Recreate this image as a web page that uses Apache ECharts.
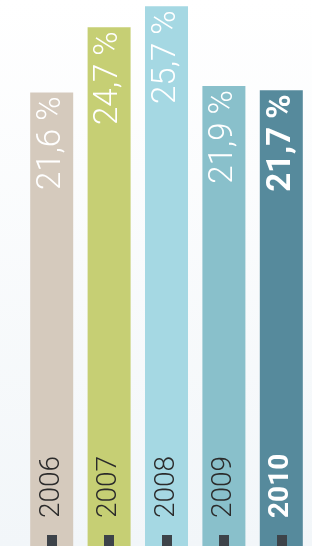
<!DOCTYPE html>
<html>
<head>
<meta charset="utf-8">
<script src="https://cdn.jsdelivr.net/npm/echarts@6/dist/echarts.min.js"></script>
<style>
  html, body { margin: 0; padding: 0; }
  body { background: linear-gradient(#ffffff, #f2f6f9); }
  #chart { width: 312px; height: 546px; }
</style>
</head>
<body>
<div id="chart"></div>
<script>
var years = ['2006', '2007', '2008', '2009', '2010'];
var values = [21.6, 24.7, 25.7, 21.9, 21.7];
var colors = ['#d5cabd', '#c6cf74', '#a5d8e3', '#89c0cb', '#568a9c'];

var chart = echarts.init(document.getElementById('chart'));

var option = {
    animation: false,
    grid: { left: 23, right: 2, top: 0, bottom: 0 },
    xAxis: {
        type: 'category',
        data: years,
        axisLine: { show: false },
        axisTick: {
            show: true,
            inside: true,
            alignWithLabel: true,
            length: 11,
            lineStyle: { color: '#3d4349', width: 10 }
        },
        axisLabel: {
            inside: true,
            rotate: 90,
            margin: 28,
            formatter: function (v, i) {
                return i === 4 ? '{b|' + v + '}' : '{a|' + v + '}';
            },
            rich: {
                a: { fontFamily: 'Roboto', fontWeight: 300, fontSize: 28, color: '#2b2b2b' },
                b: { fontFamily: 'Roboto', fontWeight: 'bold', fontSize: 28, color: '#ffffff' }
            }
        },
        z: 10
    },
    yAxis: {
        type: 'value',
        min: 0,
        max: 26,
        show: false,
        splitLine: { show: false }
    },
    series: [{
        type: 'bar',
        barWidth: 43,
        data: values.map(function (v, i) {
            return {
                value: v,
                itemStyle: { color: colors[i] },
                label: { fontWeight: i === 4 ? 'bold' : 300 }
            };
        }),
        label: {
            show: true,
            position: 'insideTop',
            distance: 4,
            rotate: 90,
            align: 'right',
            verticalAlign: 'middle',
            fontFamily: 'Roboto',
            fontSize: 33,
            color: '#ffffff',
            formatter: function (p) {
                return String(p.value).replace('.', ',') + ' %';
            }
        }
    }]
};

chart.setOption(option);
</script>
</body>
</html>
